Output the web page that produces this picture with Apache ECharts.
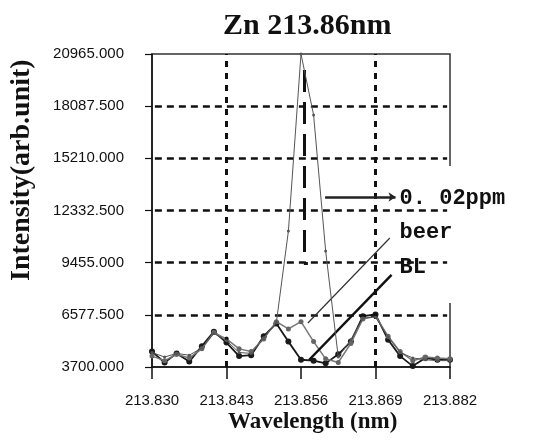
<!DOCTYPE html>
<html>
<head>
<meta charset="utf-8">
<script src="https://cdn.jsdelivr.net/npm/echarts@6/dist/echarts.min.js"></script>
<style>
  html, body { margin: 0; padding: 0; background: #fff; }
  #main { width: 543px; height: 444px; }
</style>
</head>
<body>
<div id="main"></div>
<script>
// 波长 (nm)
var wavelengths = [213.8300, 213.8322, 213.8343, 213.8365, 213.8387, 213.8408, 213.8430,
    213.8452, 213.8473, 213.8495, 213.8517, 213.8538, 213.8560, 213.8582, 213.8603,
    213.8625, 213.8647, 213.8668, 213.8690, 213.8712, 213.8733, 213.8755, 213.8777,
    213.8798, 213.8820];
var std002 = [4500, 4250, 4450, 4350, 4750, 5550, 5150, 4500, 4450, 5300, 6150, 11200,
    20965, 17600, 10100, 4250, 5200, 6400, 6450, 5350, 4500, 4200, 4100, 4050, 4050];
var beer = [4300, 4050, 4400, 4200, 4700, 5600, 5250, 4700, 4550, 5250, 6200, 5800,
    6200, 5100, 4150, 3950, 5000, 6350, 6500, 5400, 4550, 4050, 4250, 4200, 4150];
var blank = [4550, 3950, 4450, 4000, 4850, 5650, 5050, 4300, 4350, 5400, 6100, 5100,
    4100, 4050, 3900, 4400, 5100, 6500, 6600, 5200, 4300, 3750, 4200, 4100, 4100];

var xTicks = [213.830, 213.843, 213.856, 213.869, 213.882];
var yTicks = [3700, 6577.5, 9455, 12332.5, 15210, 18087.5, 20965];
var xGrid = [213.843, 213.869];
var yGrid = [6577.5, 9455, 12332.5, 15210, 18087.5];

// 标注 (数据坐标)
var labelNames = ['0. 02ppm', 'beer', 'BL'];
var labelPos = [[213.8732, 13022], [213.8732, 11147], [213.8732, 9216]];
var leaderLines = [
    [[213.8602, 13077], [213.8725, 13077]],
    [[213.8715, 10816], [213.8572, 6127]],
    [[213.8718, 8775], [213.8574, 4086]]
];
var cursorLine = [[213.8565, 20083], [213.8565, 9437], [213.8572, 9437]];

function pairs(ys) {
    var out = [];
    for (var i = 0; i < wavelengths.length; i++) {
        out.push([wavelengths[i], ys[i]]);
    }
    return out;
}

var myChart = echarts.init(document.getElementById('main'));

var gridMarks = [];
xGrid.forEach(function (v) {
    gridMarks.push([
        { coord: [v, 3700], lineStyle: { type: [6, 6], width: 3, color: '#111' } },
        { coord: [v, 20965] }
    ]);
});
yGrid.forEach(function (v) {
    gridMarks.push([
        { coord: [213.8305, v], lineStyle: { type: [7, 5], width: 2.5, color: '#111' } },
        { coord: [213.8815, v] }
    ]);
});

var option = {
    animation: false,
    title: {
        text: 'Zn 213.86nm',
        left: 218,
        top: 6,
        textStyle: {
            fontFamily: 'Liberation Serif',
            fontWeight: 'bold',
            fontSize: 30,
            color: '#111'
        }
    },
    grid: {
        left: 152,
        right: 93,
        top: 54,
        bottom: 77,
        show: true,
        borderColor: '#333',
        borderWidth: 1.5
    },
    xAxis: {
        type: 'value',
        min: 213.830,
        max: 213.882,
        splitLine: { show: false },
        axisLine: { show: true, lineStyle: { color: '#111', width: 1.5 } },
        axisTick: { show: true, length: 12, customValues: xTicks, lineStyle: { color: '#111', width: 1.5 } },
        axisLabel: {
            customValues: xTicks,
            margin: 26,
            fontFamily: 'Liberation Sans',
            fontSize: 15,
            color: '#111',
            formatter: function (v) { return v.toFixed(3); }
        }
    },
    yAxis: {
        type: 'value',
        min: 3700,
        max: 20965,
        splitLine: { show: false },
        axisLine: { show: true, lineStyle: { color: '#111', width: 1.5 } },
        axisTick: { show: true, length: 7, customValues: yTicks, lineStyle: { color: '#111', width: 1.2 } },
        axisLabel: {
            customValues: yTicks,
            margin: 28,
            fontFamily: 'Liberation Sans',
            fontSize: 15,
            color: '#111',
            formatter: function (v) { return v.toFixed(3); }
        }
    },
    series: [
        {
            name: 'grid',
            type: 'line',
            z: 0,
            data: pairs(blank),
            showSymbol: false,
            lineStyle: { opacity: 0 },
            markLine: {
                silent: true,
                symbol: ['none', 'none'],
                label: { show: false },
                data: gridMarks
            }
        },
        {
            name: 'BL',
            type: 'line',
            z: 3,
            data: pairs(blank),
            symbol: 'circle',
            symbolSize: 6,
            itemStyle: { color: '#1a1a1a' },
            lineStyle: { color: '#1a1a1a', width: 1.8 }
        },
        {
            name: 'beer',
            type: 'line',
            z: 4,
            data: pairs(beer),
            symbol: 'circle',
            symbolSize: 5,
            itemStyle: { color: '#666' },
            lineStyle: { color: '#777', width: 1.5 }
        },
        {
            name: '0.02ppm',
            type: 'line',
            z: 5,
            data: pairs(std002),
            symbol: 'circle',
            symbolSize: 3,
            itemStyle: { color: '#555' },
            lineStyle: { color: '#555', width: 1 },
            markLine: {
                silent: true,
                label: { show: false },
                symbol: ['none', 'none'],
                data: [
                    [{ coord: leaderLines[0][0], lineStyle: { type: 'solid', width: 2.5, color: '#222' } },
                     { coord: leaderLines[0][1], symbol: 'arrow', symbolSize: 7 }],
                    [{ coord: leaderLines[1][0], lineStyle: { type: 'solid', width: 1.2, color: '#333' } },
                     { coord: leaderLines[1][1] }],
                    [{ coord: leaderLines[2][0], lineStyle: { type: 'solid', width: 2.5, color: '#111' } },
                     { coord: leaderLines[2][1] }],
                    [{ coord: cursorLine[0], lineStyle: { type: [22, 10], width: 3, color: '#111' } },
                     { coord: cursorLine[1] }],
                    [{ coord: cursorLine[1], lineStyle: { type: 'solid', width: 3, color: '#111' } },
                     { coord: cursorLine[2] }]
                ]
            }
        }
    ]
};

myChart.setOption(option);

// 文字和标注
var graphics = [
    {
        type: 'rect',
        z: 1,
        shape: { x: 381, y: 166, width: 162, height: 137 },
        style: { fill: '#fff' }
    },
    {
        type: 'text',
        left: 228,
        top: 411,
        style: {
            text: 'Wavelength (nm)',
            font: 'bold 23px "Liberation Serif"',
            fill: '#111'
        }
    },
    {
        type: 'text',
        x: 8,
        y: 281,
        rotation: Math.PI / 2,
        style: {
            text: 'Intensity(arb.unit)',
            font: 'bold 28px "Liberation Serif"',
            fill: '#111',
            verticalAlign: 'top'
        }
    }
];
for (var k = 0; k < labelNames.length; k++) {
    var p = myChart.convertToPixel({ gridIndex: 0 }, labelPos[k]);
    graphics.push({
        type: 'text',
        z: 10,
        x: p[0],
        y: p[1],
        style: {
            text: labelNames[k],
            font: 'bold 22px "Liberation Mono"',
            fill: '#111',
            verticalAlign: 'middle'
        }
    });
}
myChart.setOption({ graphic: graphics });

window.addEventListener('resize', function () {
    myChart.resize();
});
</script>
</body>
</html>
